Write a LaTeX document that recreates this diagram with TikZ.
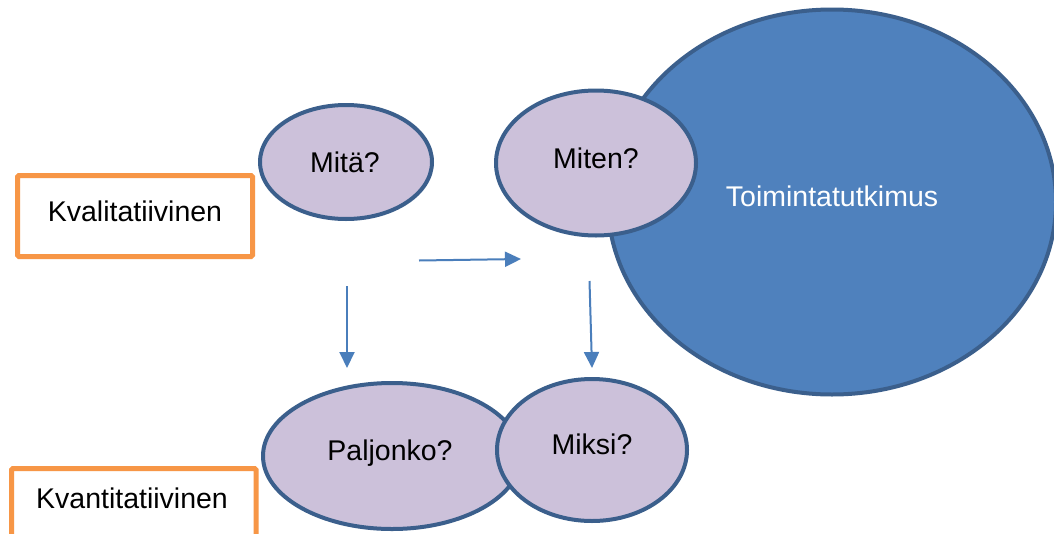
\documentclass[tikz,border=0pt]{standalone}
\usepackage{fontspec}
\setmainfont{Liberation Sans}
\usetikzlibrary{shapes.geometric,arrows.meta}

\definecolor{qfill}{HTML}{CCC1DA}
\definecolor{qline}{HTML}{3B5F8C}
\definecolor{bigfill}{HTML}{4F81BD}
\definecolor{boxline}{HTML}{F79646}
\definecolor{arrowcol}{HTML}{4A7EBB}

\tikzset{
  question/.style={ellipse, draw=qline, fill=qfill, line width=4pt, inner sep=0pt},
  bigcircle/.style={ellipse, draw=qline, fill=bigfill, line width=4pt, inner sep=0pt},
  labelbox/.style={draw=boxline, line width=5pt, rounded corners=1.5pt, fill=white},
  txt/.style={font=\fontsize{28.5}{32}\selectfont, inner sep=0pt},
  flow/.style={draw=arrowcol, line width=2pt, -{Triangle[length=16pt,width=15pt]}}
}

\begin{document}
\begin{tikzpicture}[x=1pt,y=-1pt]
  \useasboundingbox (0,0) rectangle (1054,533);
  \clip (0,0) rectangle (1054,533);
  \fill[white] (0,0) rectangle (1054,533);

  % research method boxes
  \draw[labelbox] (17.5,175.5) rectangle (252.5,256.5);
  \node[txt] (kval) at (135,211) {Kvalitatiivinen};
  \draw[labelbox] (11.5,468.5) rectangle (256,560);
  \node[txt] (kvan) at (132,498) {Kvantitatiivinen};

  % action research
  \node[bigcircle, minimum width=448pt, minimum height=385pt] (toim) at (832,202) {};
  \node[txt, text=white] at (832,196) {Toimintatutkimus};

  % question ellipses
  \node[question, minimum width=172pt, minimum height=114pt] (mita) at (346,162) {};
  \node[txt] at (345,162) {Mitä?};
  \node[question, minimum width=200pt, minimum height=145pt] (miten) at (596,163) {};
  \node[txt] at (596,158) {Miten?};
  \node[question, minimum width=258pt, minimum height=146pt] (paljonko) at (392,456) {};
  \node[txt] at (390,453) {Paljonko?};
  \node[question, minimum width=190pt, minimum height=142pt] (miksi) at (592,450) {};
  \node[txt] at (592,444) {Miksi?};

  % arrows between the questions
  \coordinate (a1s) at (419,260.5);
  \coordinate (a1e) at (521,259);
  \coordinate (a2s) at (347,286);
  \coordinate (a2e) at (347,368);
  \coordinate (a3s) at (589.5,281);
  \coordinate (a3e) at (592,368);
  \draw[flow] (a1s) -- (a1e);
  \draw[flow] (a2s) -- (a2e);
  \draw[flow] (a3s) -- (a3e);
\end{tikzpicture}
\end{document}
